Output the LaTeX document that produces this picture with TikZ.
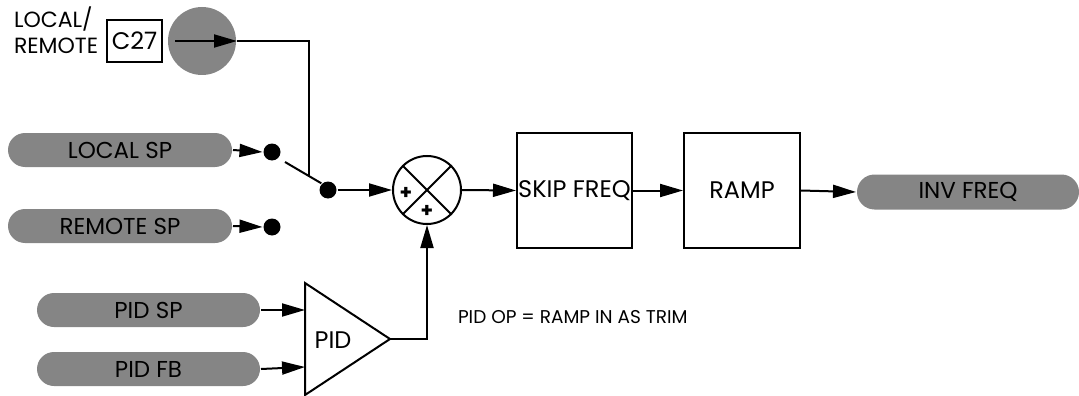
\documentclass[tikz,border=0pt]{standalone}
\usepackage{fontspec}
\setmainfont{Poppins}
\usetikzlibrary{arrows.meta,shapes.misc}
\begin{document}
\begin{tikzpicture}[x=1pt,y=-1pt,
  line width=2pt,
  arr/.style={-{Triangle[length=23pt,width=13pt]}},
  pill/.style={rounded rectangle, fill=black!48, minimum height=34pt, inner sep=0pt, font=\fontsize{23}{25}\selectfont},
  blk/.style={draw, minimum width=115pt, minimum height=115pt, inner sep=0pt, font=\fontsize{24}{26}\selectfont},
  dotn/.style={circle, fill=black, inner sep=0pt, minimum size=17pt},
  lbl/.style={font=\fontsize{24}{27}\selectfont},
  sel/.style={font=\fontsize{22}{27}\selectfont, inner sep=0pt, anchor=base west},
  plus/.style={font=\bfseries\fontsize{20}{20}\selectfont, inner sep=0pt}
]
\useasboundingbox (0,0) rectangle (1079,396);
% local/remote selector
\node[sel] (lr1) at (13,28) {LOCAL/};
\node[sel] (lr2) at (13,54) {REMOTE};
\node[draw, lbl, minimum width=55pt, minimum height=42pt, inner sep=0pt] (c27) at (134.5,41) {C27};
\node[circle, fill=black!48, minimum size=68pt, inner sep=0pt] (sel) at (202,41) {};
\coordinate (selin) at (175,41);
\coordinate (swj) at (309,176);
\draw[arr] (selin) -- (sel.east);
\draw (sel.east) -| (swj);
% setpoint pills
\node[pill, minimum width=224pt] (lsp) at (120,150) {LOCAL SP};
\node[pill, minimum width=224pt] (rsp) at (120,226) {REMOTE SP};
\node[dotn] (dl) at (272,152) {};
\node[dotn] (dr) at (272,227) {};
\node[dotn] (dc) at (328,190) {};
\draw[arr] (lsp.east) -- (dl.west);
\draw[arr] (rsp.east) -- (dr.west);
\coordinate (sw1) at (285,162);
\draw (sw1) -- (dc.north west);
% summing junction
\node[circle, draw, minimum size=68pt, inner sep=0pt] (sum) at (427,190) {};
\draw (sum.north west) -- (sum.south east);
\draw (sum.north east) -- (sum.south west);
\node[plus] (p1) at (406,193) {+};
\node[plus] (p2) at (427,211) {+};
\draw[arr] (dc.east) -- (sum.west);
% PID
\node[pill, minimum width=223pt] (psp) at (148.5,310) {PID SP};
\node[pill, minimum width=223pt] (pfb) at (148.5,369) {PID FB};
\coordinate (t1) at (305,283);
\coordinate (t2) at (305,395);
\coordinate (t3) at (390,339);
\draw[line join=miter] (t1) -- (t3) -- (t2) -- cycle;
\node[lbl] (pid) at (333,340) {PID};
\coordinate (ia) at (305,310);
\coordinate (ib) at (305,367);
\draw[arr] (psp.east) -- (ia);
\draw[arr] (pfb.east) -- (ib);
\draw[arr] (t3) -| (sum.south);
\node[font=\fontsize{18.5}{20}\selectfont, anchor=west, inner sep=0pt] (note) at (457,317) {PID OP = RAMP IN AS TRIM};
% forward path
\node[blk] (skip) at (574.5,190.5) {SKIP FREQ};
\node[blk, minimum width=116pt] (ramp) at (742,190.5) {RAMP};
\node[pill, minimum width=222pt, minimum height=35pt] (inv) at (968,192) {INV FREQ};
\draw[arr] (sum.east) -- (skip.west);
\draw[arr] (skip.east) -- (ramp.west);
\draw[arr] (ramp.east) -- (inv.west);
\end{tikzpicture}
\end{document}
